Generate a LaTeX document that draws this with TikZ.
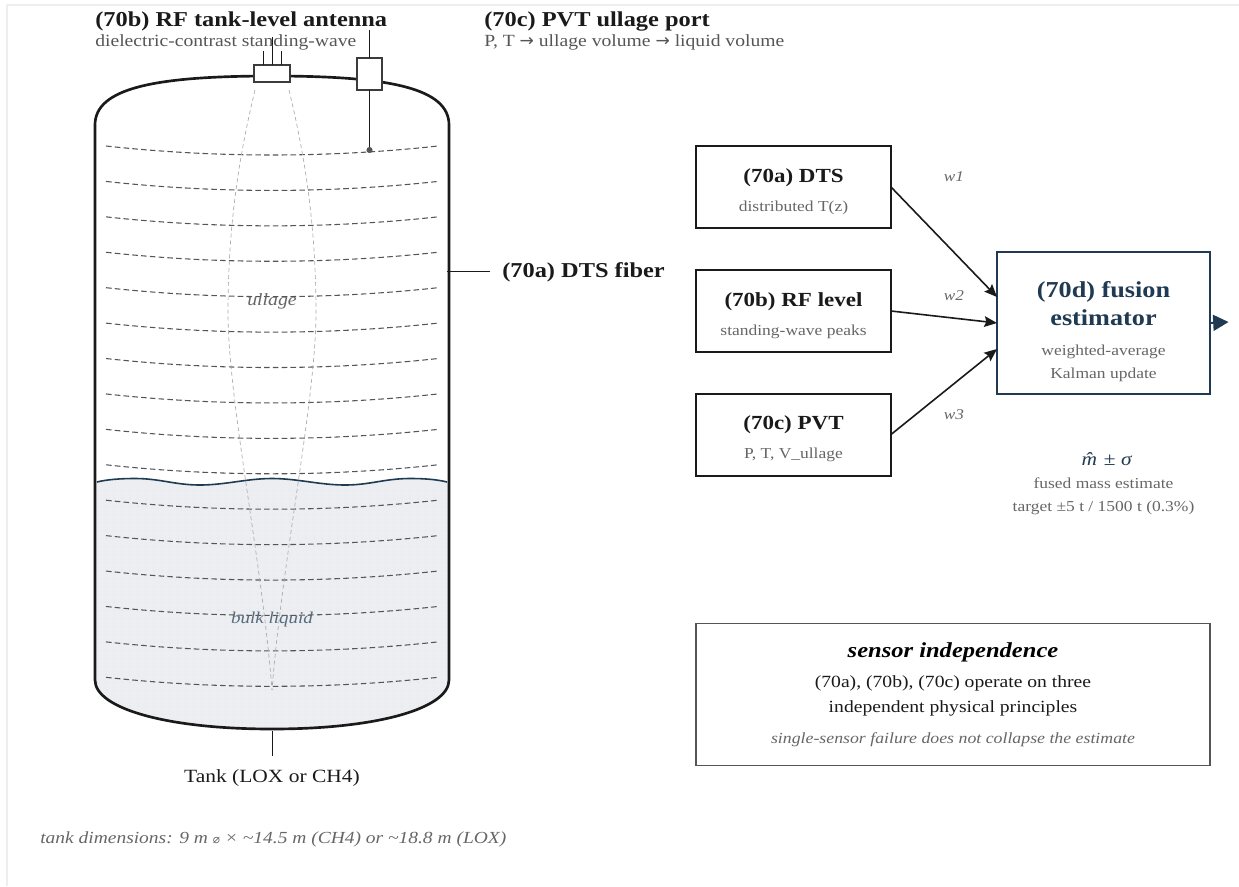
\documentclass[tikz,border=0pt]{standalone}
\usepackage{fontspec}
\setmainfont{Liberation Serif}[FakeStretch=1.15]
\newfontfamily\symfont{DejaVu Sans}
\usetikzlibrary{arrows.meta}
\definecolor{inkcol}{HTML}{1A1A1A}
\definecolor{navycol}{HTML}{1F3A52}
\definecolor{subcol}{HTML}{666666}
\definecolor{fibercol}{HTML}{555555}
\definecolor{beamcol}{HTML}{AAAAAA}
\definecolor{liquidcol}{HTML}{ECEEF1}
\definecolor{dotcol}{HTML}{E7EAEE}
\definecolor{framecol}{HTML}{EEEEEE}
\newcommand{\fsz}[1]{\fontsize{#1}{#1}\selectfont}
\tikzset{
  txt/.style={inner sep=0pt,anchor=base},
  txtl/.style={inner sep=0pt,anchor=base west},
  headl/.style={txtl,font=\fsz{15.9}\bfseries,text=inkcol},
  subl/.style={txtl,font=\fsz{12.8},text=fibercol},
  boxhead/.style={txt,font=\fsz{15}\bfseries,text=inkcol},
  boxsub/.style={txt,font=\fsz{11.4},text=subcol},
  weight/.style={txt,font=\fsz{11.2}\itshape,text=subcol},
  sensorbox/.style={draw=inkcol,fill=white,line width=1.5pt,rectangle,outer sep=0pt,inner sep=0pt,minimum width=146.25pt,minimum height=61.5pt},
  fiber/.style={draw=fibercol,line width=0.8pt,dash pattern=on 4.2pt off 2.4pt},
  beam/.style={draw=beamcol,line width=0.5pt,dash pattern=on 3pt off 2.2pt},
  lead/.style={draw=inkcol,line width=0.75pt},
  mount/.style={draw=inkcol!85,fill=white,line width=1.1pt,rectangle,outer sep=0pt,inner sep=0pt},
  feed/.style={draw=inkcol,line width=1.2pt,-{Stealth[length=9.5pt,width=8pt,inset=1.5pt]}},
}
\newcommand{\tankpath}{(95,125) .. controls (95,88) and (155,76) .. (272,76) .. controls (389,76) and (449,88) .. (449,125) -- (449,680) .. controls (449,708) and (379,729) .. (272,729) .. controls (165,729) and (95,708) .. (95,680) -- cycle}
\begin{document}
\begin{tikzpicture}[x=0.75pt,y=-0.75pt]
  \useasboundingbox (0,0) rectangle (1239,886);
  \draw[framecol,line width=1.5pt] (7,886) -- (7,5.3) -- (1239,5.3);
  % liquid
  \begin{scope}
    \clip \tankpath;
    \fill[liquidcol] (90,482) .. controls (107,479.5) and (120,478.5) .. (135,478.5) .. controls (160,478.5) and (175,485) .. (200,485) .. controls (225,485) and (247,478.5) .. (272,478.5) .. controls (297,478.5) and (320,485) .. (345,485) .. controls (370,485) and (385,478.5) .. (410,478.5) .. controls (425,478.5) and (437,479.5) .. (455,482) -- (455,735) -- (90,735) -- cycle;
    \foreach \col in {0,...,44}
      \foreach \row in {0,...,31}
        \fill[dotcol] (98+8*\col,490+8*\row) circle (1);
  \end{scope}
  % fiber rings
  \foreach \k in {0,...,15} {
    \pgfmathsetmacro{\yy}{146+35.42*\k}
    \draw[fiber] (106,\yy) .. controls (216,\yy+12) and (328,\yy+12) .. (438,\yy);
  }
  % antenna beam
  \draw[beam] (255,90) .. controls (238,160) and (228,230) .. (228,312) .. controls (228,400) and (262,560) .. (272,690);
  \draw[beam] (289,90) .. controls (306,160) and (316,230) .. (316,312) .. controls (316,400) and (282,560) .. (272,690);
  \draw[navycol,line width=1.2pt] (97,482) .. controls (107,479.5) and (120,478.5) .. (135,478.5) .. controls (160,478.5) and (175,485) .. (200,485) .. controls (225,485) and (247,478.5) .. (272,478.5) .. controls (297,478.5) and (320,485) .. (345,485) .. controls (370,485) and (385,478.5) .. (410,478.5) .. controls (425,478.5) and (437,479.5) .. (447,482);
  \draw[inkcol,line width=2pt] \tankpath;
  \node[txt,font=\fsz{12.9}\itshape,text=subcol] (ullage) at (272,305) {ullage};
  \node[txt,font=\fsz{12.4}\itshape,text=navycol!75] (bulk) at (272,623) {bulk liquid};
  % antenna
  \node[mount,minimum width=27pt,minimum height=13pt] (antenna) at (272,73.5) {};
  \coordinate (stubA) at (263.5,51);
  \coordinate (stubB) at (272,37);
  \coordinate (stubC) at (281,51);
  \draw[lead] (stubA) -- (stubA |- antenna.north);
  \draw[lead] (stubB) -- (antenna.north);
  \draw[lead] (stubC) -- (stubC |- antenna.north);
  % ullage port
  \node[mount,minimum width=19pt,minimum height=24pt] (port) at (369.5,74) {};
  \coordinate (portTop) at (369.5,30);
  \node[circle,fill=fibercol,inner sep=0pt,minimum size=4.6pt] (portTip) at (369.5,150) {};
  \draw[lead] (portTop) -- (port.north);
  \draw[lead] (port.south) -- (portTip);
  % tank labels
  \node[headl] (antHead) at (95,26) {(70b) RF tank-level antenna};
  \node[subl] (antSub) at (95,46) {dielectric-contrast standing-wave};
  \node[headl] (portHead) at (484,26) {(70c) PVT ullage port};
  \node[subl] (portSub) at (484,46) {P, T {\symfont→} ullage volume {\symfont→} liquid volume};
  \node[headl] (fiberHead) at (502,277) {(70a) DTS fiber};
  \coordinate (fiberEnd) at (447,271);
  \coordinate (fiberGap) at (490,271);
  \draw[lead] (fiberEnd) -- (fiberGap);
  \coordinate (tankEnd) at (272,731);
  \coordinate (tankGap) at (272,756);
  \node[txt,font=\fsz{14},text=inkcol] (tankLab) at (272,782) {Tank (LOX or CH4)};
  \draw[lead] (tankEnd) -- (tankGap);
  \node[txtl,font=\fsz{12.7}\itshape,text=subcol] (dimNote) at (40,843) {tank dimensions: 9 m {\symfont\upshape\fontsize{9}{9}\selectfont\char"2300} × \textasciitilde14.5 m (CH4) or \textasciitilde18.8 m (LOX)};
  % sensors
  \node[sensorbox] (dts) at (793.5,187) {};
  \node[sensorbox] (rf) at (793.5,311) {};
  \node[sensorbox] (pvt) at (793.5,434.5) {};
  \node[boxhead] (dtsHead) at (793.5,182) {(70a) DTS};
  \node[boxsub] (dtsSub) at (793.5,211) {distributed T(z)};
  \node[boxhead] (rfHead) at (793.5,306) {(70b) RF level};
  \node[boxsub] (rfSub) at (793.5,335) {standing-wave peaks};
  \node[boxhead] (pvtHead) at (793.5,429) {(70c) PVT};
  \node[boxsub] (pvtSub) at (793.5,458) {P, T, V\_ullage};
  % fusion
  \node[draw=navycol,fill=white,line width=1.9pt,rectangle,outer sep=0pt,inner sep=0pt,minimum width=159.75pt,minimum height=106.5pt] (est) at (1103.5,323) {};
  \node[txt,font=\fsz{17.1}\bfseries,text=navycol] (estHeadA) at (1103.5,297) {(70d) fusion};
  \node[txt,font=\fsz{17.1}\bfseries,text=navycol] (estHeadB) at (1103.5,325) {estimator};
  \node[boxsub] (estSubA) at (1103.5,355) {weighted-average};
  \node[boxsub] (estSubB) at (1103.5,378) {Kalman update};
  \coordinate (inA) at (997,297);
  \coordinate (inB) at (997,323);
  \coordinate (inC) at (997,349);
  \coordinate (outEnd) at (1228.5,322);
  \draw[feed] (dts.east) -- (inA);
  \draw[feed] (rf.east) -- (inB);
  \draw[feed] (pvt.east) -- (inC);
  \draw[navycol,line width=1.4pt,-{Triangle[length=11.5pt,width=12pt]}] (est.east) -- (outEnd);
  \node[weight] (wOne) at (954,181) {w1};
  \node[weight] (wTwo) at (954,300) {w2};
  \node[weight] (wThree) at (954,419) {w3};
  % output
  \node[txt,font=\fsz{14},text=navycol] (mHat) at (1107,465) {\textit{m̂}\kern-5pt{} ± \textit{σ}};
  \node[boxsub] (massA) at (1103.5,488) {fused mass estimate};
  \node[boxsub] (massB) at (1103.5,511) {target ±5 t / 1500 t (0.3\%)};
  % independence note
  \node[draw=fibercol,fill=white,line width=0.8pt,rectangle,outer sep=0pt,inner sep=0pt,minimum width=385.5pt,minimum height=106pt] (indep) at (953,694.5) {};
  \node[txt,font=\fsz{16}\bfseries\itshape,text=black] (indepHead) at (953,657) {sensor independence};
  \node[txt,font=\fsz{12.8},text=inkcol] (indepA) at (953,687) {(70a), (70b), (70c) operate on three};
  \node[txt,font=\fsz{12.8},text=inkcol] (indepB) at (953,712) {independent physical principles};
  \node[txt,font=\fsz{11.6}\itshape,text=subcol] (indepC) at (953,743) {single-sensor failure does not collapse the estimate};
\end{tikzpicture}
\end{document}
